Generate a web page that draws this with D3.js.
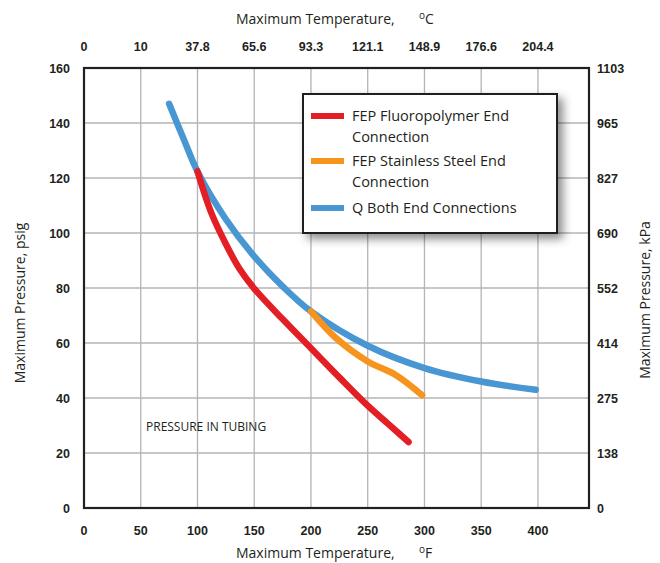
<!DOCTYPE html>
<html>
<head>
<meta charset="utf-8">
<script src="https://cdn.jsdelivr.net/npm/d3@7"></script>
<style>
  body { margin: 0; background: #fff; }
  svg { display: block; }
</style>
</head>
<body>
<svg width="660" height="563"></svg>
<script>
// data
const fTicks = [0, 50, 100, 150, 200, 250, 300, 350, 400];
const cLabels = ['0', '10', '37.8', '65.6', '93.3', '121.1', '148.9', '176.6', '204.4'];
const psiTicks = [0, 20, 40, 60, 80, 100, 120, 140, 160];
const kpaLabels = ['0', '138', '275', '414', '552', '690', '827', '965', '1103'];

const fepFluoro = [[100, 122.4], [112, 107.5], [125, 96], [137, 87], [150, 79.8], [175, 68.7], [200, 58.1], [225, 47.5], [250, 37.2], [268, 30.6], [286, 24]];
const fepSteel = [[200, 71.5], [222, 61.8], [250, 53.3], [275, 48.3], [298, 41]];
const qBoth = [[75, 147], [88, 134], [100, 122.4], [125, 105], [150, 91.5], [175, 80.6], [200, 71.5], [250, 59], [300, 50.9], [350, 46], [398, 43]];

const series = [
  {name: ['FEP Fluoropolymer End', 'Connection'], color: '#e31e25', values: fepFluoro},
  {name: ['FEP Stainless Steel End', 'Connection'], color: '#f7941d', values: fepSteel},
  {name: ['Q Both End Connections'], color: '#4897d3', values: qBoth}
];

const svg = d3.select('svg');
const plotL = 84, plotR = 589, plotT = 68, plotB = 508;

const x = d3.scaleLinear().domain([0, 445]).range([plotL, plotR]);
const y = d3.scaleLinear().domain([0, 160]).range([plotB, plotT]);

const defs = svg.append('defs');
const shadow = defs.append('filter').attr('id', 'shadow')
  .attr('x', '-20%').attr('y', '-20%').attr('width', '150%').attr('height', '150%');
shadow.append('feDropShadow')
  .attr('dx', 5).attr('dy', 5).attr('stdDeviation', 5)
  .attr('flood-color', '#000').attr('flood-opacity', 0.45);

// grid
const grid = svg.append('g').attr('stroke', '#b4b4b6').attr('stroke-width', 1.3);
grid.selectAll('line.v').data(fTicks.slice(1)).enter().append('line')
  .attr('x1', d => x(d)).attr('x2', d => x(d)).attr('y1', plotT).attr('y2', plotB);
grid.selectAll('line.h').data(psiTicks.slice(1, -1)).enter().append('line')
  .attr('x1', plotL).attr('x2', plotR).attr('y1', d => y(d)).attr('y2', d => y(d));

// curves
const line = d3.line()
  .curve(d3.curveCatmullRom)
  .x(d => x(d[0]))
  .y(d => y(d[1]));

svg.append('g')
  .selectAll('path')
  .data([series[2], series[1], series[0]])
  .enter()
  .append('path')
  .attr('d', d => line(d.values))
  .attr('fill', 'none')
  .attr('stroke', d => d.color)
  .attr('stroke-width', 6.5)
  .attr('stroke-linecap', 'round')
  .attr('stroke-linejoin', 'round');

// frame
svg.append('rect')
  .attr('x', plotL).attr('y', plotT)
  .attr('width', plotR - plotL).attr('height', plotB - plotT)
  .attr('fill', 'none').attr('stroke', '#231f20').attr('stroke-width', 2.2);

// tick labels
const tickFont = 'Liberation Sans, Arial, sans-serif';
const ticks = svg.append('g')
  .attr('font-family', tickFont).attr('font-weight', 'bold')
  .attr('font-size', 12.5).attr('fill', '#231f20');

ticks.selectAll('text.b').data(fTicks).enter().append('text')
  .attr('x', d => x(d)).attr('y', 535)
  .attr('text-anchor', 'middle').text(d => d);
ticks.selectAll('text.t').data(fTicks).enter().append('text')
  .attr('x', d => x(d)).attr('y', 51)
  .attr('text-anchor', 'middle').text((d, i) => cLabels[i]);
ticks.selectAll('text.l').data(psiTicks).enter().append('text')
  .attr('x', 70).attr('y', d => y(d) + 4.5)
  .attr('text-anchor', 'end').text(d => d);
ticks.selectAll('text.r').data(psiTicks).enter().append('text')
  .attr('x', 597).attr('y', d => y(d) + 4.5)
  .attr('text-anchor', 'start').text((d, i) => kpaLabels[i]);

// axis titles
const titleFont = 'Open Sans, Noto Sans, sans-serif';
function tempTitle(ty, unit) {
  const t = svg.append('text')
    .attr('x', 236).attr('y', ty)
    .attr('font-family', titleFont).attr('font-size', 14)
    .attr('fill', '#231f20');
  t.append('tspan').text('Maximum Temperature,');
  t.append('tspan').attr('x', 419).attr('dy', -5).attr('font-size', 10).text('o');
  t.append('tspan').attr('dy', 5).text(unit);
}
tempTitle(24, 'C');
tempTitle(558, 'F');

svg.append('text')
  .attr('transform', 'translate(25,303) rotate(-90)')
  .attr('text-anchor', 'middle')
  .attr('font-family', titleFont).attr('font-size', 14).attr('fill', '#231f20')
  .text('Maximum Pressure, psig');
svg.append('text')
  .attr('transform', 'translate(650,300) rotate(-90)')
  .attr('text-anchor', 'middle')
  .attr('font-family', titleFont).attr('font-size', 14).attr('fill', '#231f20')
  .text('Maximum Pressure, kPa');

svg.append('text')
  .attr('x', 146).attr('y', 431)
  .attr('font-family', titleFont).attr('font-size', 12).attr('fill', '#231f20')
  .text('PRESSURE IN TUBING');

// legend
const lg = svg.append('g').attr('transform', 'translate(303,94)');
lg.append('rect')
  .attr('width', 254).attr('height', 139)
  .attr('fill', '#fff').attr('stroke', '#231f20').attr('stroke-width', 2)
  .attr('filter', 'url(#shadow)');
const rowY = [22, 67, 114];
series.forEach((s, i) => {
  lg.append('line')
    .attr('x1', 8).attr('x2', 41)
    .attr('y1', rowY[i]).attr('y2', rowY[i])
    .attr('stroke', s.color).attr('stroke-width', 6);
  s.name.forEach((t, j) => {
    lg.append('text')
      .attr('x', 49).attr('y', rowY[i] + 5 + j * 21)
      .attr('font-family', titleFont).attr('font-size', 14.5).attr('fill', '#231f20')
      .text(t);
  });
});
</script>
</body>
</html>
